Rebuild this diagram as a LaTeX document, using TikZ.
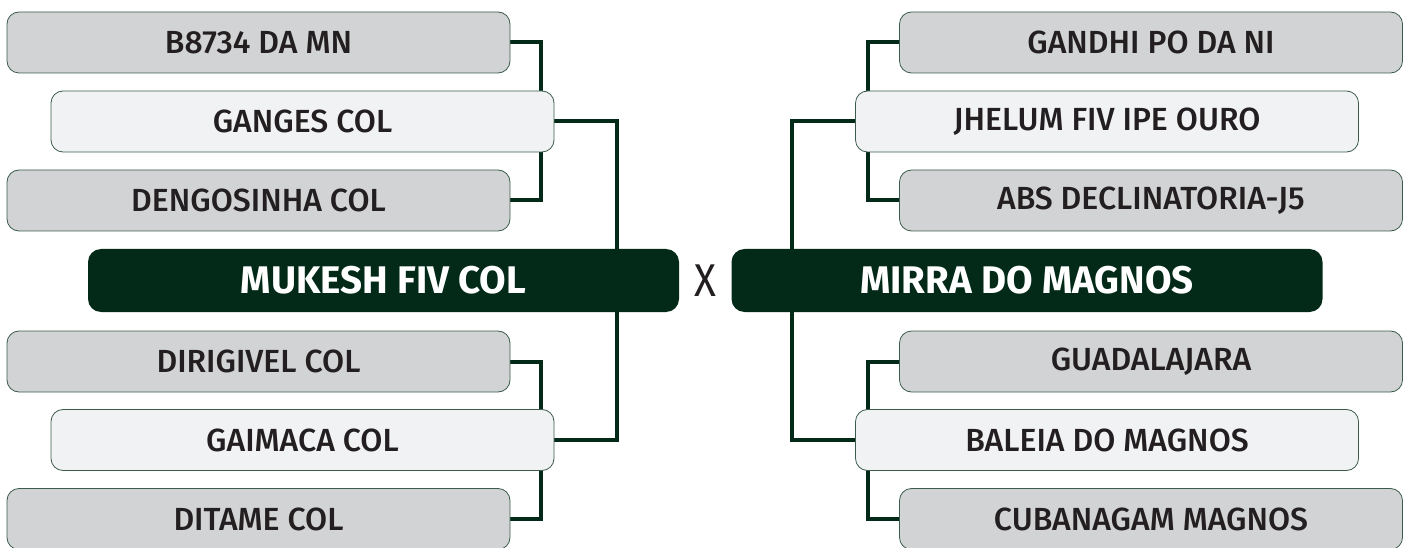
\documentclass[tikz,border=0pt]{standalone}
\usepackage{fontspec}
\setmainfont{Fira Sans}[UprightFont=* Medium,BoldFont=* Bold]
\newfontfamily\versusfont{Fira Sans}[FakeStretch=0.88]
\usepackage{xcolor}
\usetikzlibrary{positioning}
\definecolor{boxgray}{HTML}{D1D3D4}
\definecolor{boxlight}{HTML}{F1F2F4}
\definecolor{darkgreen}{HTML}{032A19}
\definecolor{edge}{HTML}{3B5B4B}
\definecolor{ink}{HTML}{231F20}
\pgfdeclarelayer{background}
\pgfsetlayers{background,main}

\begin{document}
\begin{tikzpicture}[x=1pt,y=-1pt,
  team/.style={draw=edge,line width=0.8pt,rounded corners=12pt,minimum width=503pt,minimum height=61pt,inner sep=0pt,text=ink,font=\fontsize{32}{32}\selectfont},
  outer/.style={team,fill=boxgray},
  inner/.style={team,fill=boxlight},
  finalist/.style={fill=darkgreen,rounded corners=13pt,minimum width=591pt,minimum height=63pt,inner sep=0pt,text=white,font=\fontsize{38.5}{38.5}\selectfont\bfseries},
  wire/.style={darkgreen,line width=4pt}]
\useasboundingbox (0,0) rectangle (1409,548);
% left bracket
\node[outer] (dam1) at (258.5,42.5) {B8734 DA MN};
\node[inner] (sire1) at (302.5,121.5) {GANGES COL};
\node[outer] (dam2) at (258.5,200.5) {DENGOSINHA COL};
\node[finalist] (mukesh) at (383.5,280.5) {MUKESH FIV COL};
\node[outer] (dam3) at (258.5,361.5) {DIRIGIVEL COL};
\node[inner] (sire2) at (302.5,440) {GAIMACA COL};
\node[outer] (dam4) at (258.5,519) {DITAME COL};
% right bracket
\node[outer] (dam5) at (1151,42.5) {GANDHI PO DA NI};
\node[inner] (sire3) at (1107,121.5) {JHELUM FIV IPE OURO};
\node[outer] (dam6) at (1151,200.5) {ABS DECLINATORIA-J5};
\node[finalist] (mirra) at (1027,280.5) {MIRRA DO MAGNOS};
\node[outer] (dam7) at (1151,361.5) {GUADALAJARA};
\node[inner] (sire4) at (1107,440) {BALEIA DO MAGNOS};
\node[outer] (dam8) at (1151,519) {CUBANAGAM MAGNOS};
\node[text=ink,font=\versusfont\fontsize{46}{46}\selectfont] (versus) at (705,281) {X};
% connectors behind the boxes
\begin{pgfonlayer}{background}
\draw[wire] (dam1.east) -- ++(31,0) |- (dam2.east);
\draw[wire] (dam3.east) -- ++(31,0) |- (dam4.east);
\draw[wire] (sire1.east) -- ++(63,0) |- (sire2.east);
\draw[wire] (dam5.west) -- ++(-31,0) |- (dam6.west);
\draw[wire] (dam7.west) -- ++(-31,0) |- (dam8.west);
\draw[wire] (sire3.west) -- ++(-63,0) |- (sire4.west);
\end{pgfonlayer}
\end{tikzpicture}
\end{document}
